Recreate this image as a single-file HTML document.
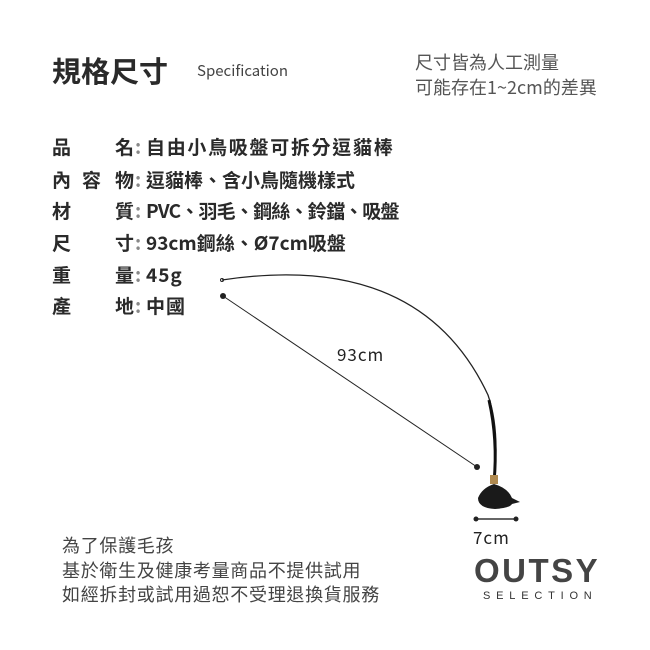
<!DOCTYPE html>
<html><head><meta charset="utf-8"><style>
body{margin:0;width:650px;height:650px;background:#fff;position:relative;overflow:hidden;font-family:"Noto Sans CJK TC","Liberation Sans",sans-serif;color:#333}
.a{position:absolute;white-space:nowrap}
.r{position:absolute;left:52px;font-size:19px;font-weight:bold;line-height:22px;color:#2a2a2a}
.r span{position:absolute;white-space:nowrap;top:0}
.c{left:83px;color:#888}
</style></head><body>
<div class="a" style="left:52px;top:50px;font-size:29px;font-weight:bold;color:#2a2a2a;line-height:40px">規格尺寸</div>
<div class="a" style="left:197px;top:61px;font-size:15px;color:#444;line-height:20px">Specification</div>
<div class="a" style="left:415px;top:50px;font-size:18px;color:#555;line-height:25px">尺寸皆為人工測量<br>可能存在1~2cm的差異</div>

<div class="r" style="top:136px"><span style="left:0">品</span><span style="left:63px">名</span><span class="c">:</span><span style="left:94px;letter-spacing:1.7px">自由小鳥吸盤可拆分逗貓棒</span></div>
<div class="r" style="top:169px"><span style="left:0">內</span><span style="left:30px">容</span><span style="left:63px">物</span><span class="c">:</span><span style="left:94px;letter-spacing:0px">逗貓棒、含小鳥隨機樣式</span></div>
<div class="r" style="top:200px"><span style="left:0">材</span><span style="left:63px">質</span><span class="c">:</span><span style="left:94px;letter-spacing:-0.8px">PVC、羽毛、鋼絲、鈴鐺、吸盤</span></div>
<div class="r" style="top:232px"><span style="left:0">尺</span><span style="left:63px">寸</span><span class="c">:</span><span style="left:94px;letter-spacing:0px">93cm鋼絲、Ø7cm吸盤</span></div>
<div class="r" style="top:264px"><span style="left:0">重</span><span style="left:63px">量</span><span class="c">:</span><span style="left:94px;letter-spacing:1px">45g</span></div>
<div class="r" style="top:295px"><span style="left:0">產</span><span style="left:63px">地</span><span class="c">:</span><span style="left:94px;letter-spacing:1px">中國</span></div>

<svg class="a" style="left:0;top:0" width="650" height="650">
<path d="M222 280 Q420 250 488 395 Q500 430 494 482" fill="none" stroke="#222" stroke-width="1.3"/>
<path d="M489 400 Q498 440 494 482" fill="none" stroke="#111" stroke-width="3"/>
<circle cx="222" cy="280" r="1.5" fill="none" stroke="#222"/>
<line x1="223" y1="296" x2="477" y2="467" stroke="#222" stroke-width="1"/>
<circle cx="223" cy="296" r="3" fill="#222"/><circle cx="477" cy="467" r="3" fill="#222"/>
<rect x="490" y="475" width="8" height="9" fill="#b08a50"/>
<path d="M478 498 Q482 488 494 484 Q508 488 512 498 L520 502 L512 504 Q510 508 495 509 Q478 508 478 498Z" fill="#1a1a1a"/>
<line x1="476" y1="519" x2="516" y2="519" stroke="#333" stroke-width="1.5"/>
<circle cx="476" cy="519" r="2.5" fill="#222"/><circle cx="516" cy="519" r="2.5" fill="#222"/>
</svg>
<div class="a" style="left:337px;top:342px;font-size:17px;color:#222;letter-spacing:1px;line-height:24px">93cm</div>
<div class="a" style="left:473px;top:525px;font-size:17px;color:#222;letter-spacing:1px;line-height:24px">7cm</div>
<div class="a" style="left:474px;top:552px;font-size:33px;font-weight:bold;color:#444;letter-spacing:2.5px;font-family:'Liberation Sans',sans-serif;line-height:38px">OUTSY</div>
<div class="a" style="left:483px;top:589px;font-size:11px;color:#333;letter-spacing:5.8px;font-family:'Liberation Sans',sans-serif;line-height:14px">SELECTION</div>
<div class="a" style="left:62px;top:533px;font-size:18px;color:#444;line-height:24.5px;letter-spacing:0.7px">為了保護毛孩<br>基於衛生及健康考量商品不提供試用<br>如經拆封或試用過恕不受理退換貨服務</div>
</body></html>
